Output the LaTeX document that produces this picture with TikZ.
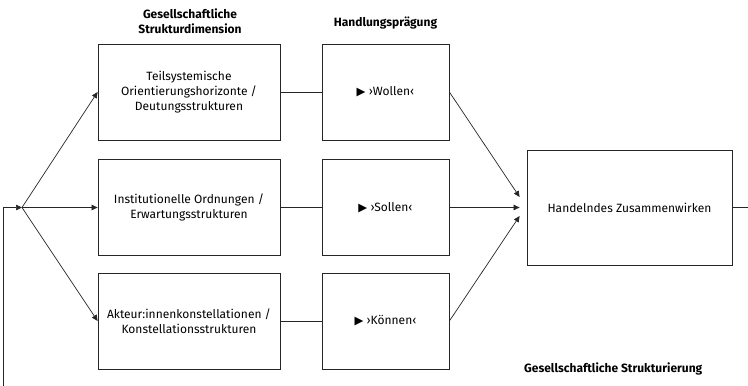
\documentclass[tikz,border=0pt]{standalone}
\usepackage{fontspec}
\setmainfont{Fira Sans}
\newfontfamily\symfont{DejaVu Sans}
\usetikzlibrary{arrows.meta,calc}
\begin{document}
\begin{tikzpicture}[x=1pt,y=-1pt,
  line/.style={draw=black!85, line width=0.7pt},
  arr/.style={line, -{Triangle[length=6pt,width=5.5pt]}},
  box/.style={draw=black!85, line width=0.8pt, align=center, inner sep=0pt,
    font=\fontsize{12}{15}\selectfont},
  boxA/.style={box, minimum width=182pt, minimum height=96pt},
  boxB/.style={box, minimum width=127pt, minimum height=96pt},
  head/.style={align=center, font=\bfseries\fontsize{12}{15}\selectfont, inner sep=0pt}]
\useasboundingbox (0,0) rectangle (748,386);
\newcommand{\tri}{{\symfont\fontsize{11.5}{11.5}\selectfont ▶}\ }
% headings
\node[head] (h1) at (190,21) {Gesellschaftliche\\Strukturdimension};
\node[head] (h2) at (385.5,23) {Handlungsprägung};
\node[head, anchor=west] (h3) at (524,369) {Gesellschaftliche Strukturierung};
% boxes
\node[boxA] (a1) at (189,92) {Teilsystemische\\Orientierungshorizonte /\\Deutungsstrukturen};
\node[boxA] (a2) at (189,207.5) {Institutionelle Ordnungen /\\Erwartungsstrukturen};
\node[boxA] (a3) at (189,321) {Akteur:innenkonstellationen /\\Konstellationsstrukturen};
\node[boxB] (b1) at (385.5,92) {\tri›Wollen‹};
\node[boxB] (b2) at (385.5,207.5) {\tri›Sollen‹};
\node[boxB] (b3) at (385.5,321) {\tri›Können‹};
\node[box, minimum width=205pt, minimum height=115pt] (c) at (629.5,207.5) {Handelndes Zusammenwirken};
% coordinates
\coordinate (j) at (22,207.5);
\coordinate (l) at (3.5,386);
\coordinate (r) at (748,207.5);
% connectors
\draw[arr] (l) |- (j);
\draw[arr] (j) -- (a1.west);
\draw[arr] (j) -- (a2.west);
\draw[arr] (j) -- (a3.west);
\draw[line] (a1) -- (b1);
\draw[line] (a2) -- (b2);
\draw[line] (a3) -- (b3);
\draw[arr] (b1.east) -- ($(c.west)+(-7,-10.5)$);
\draw[arr] (b2.east) -- ($(c.west)+(-7,0)$);
\draw[arr] (b3.east) -- ($(c.west)+(-7,8.5)$);
\draw[line] (c.east) -- (r);
\end{tikzpicture}
\end{document}
